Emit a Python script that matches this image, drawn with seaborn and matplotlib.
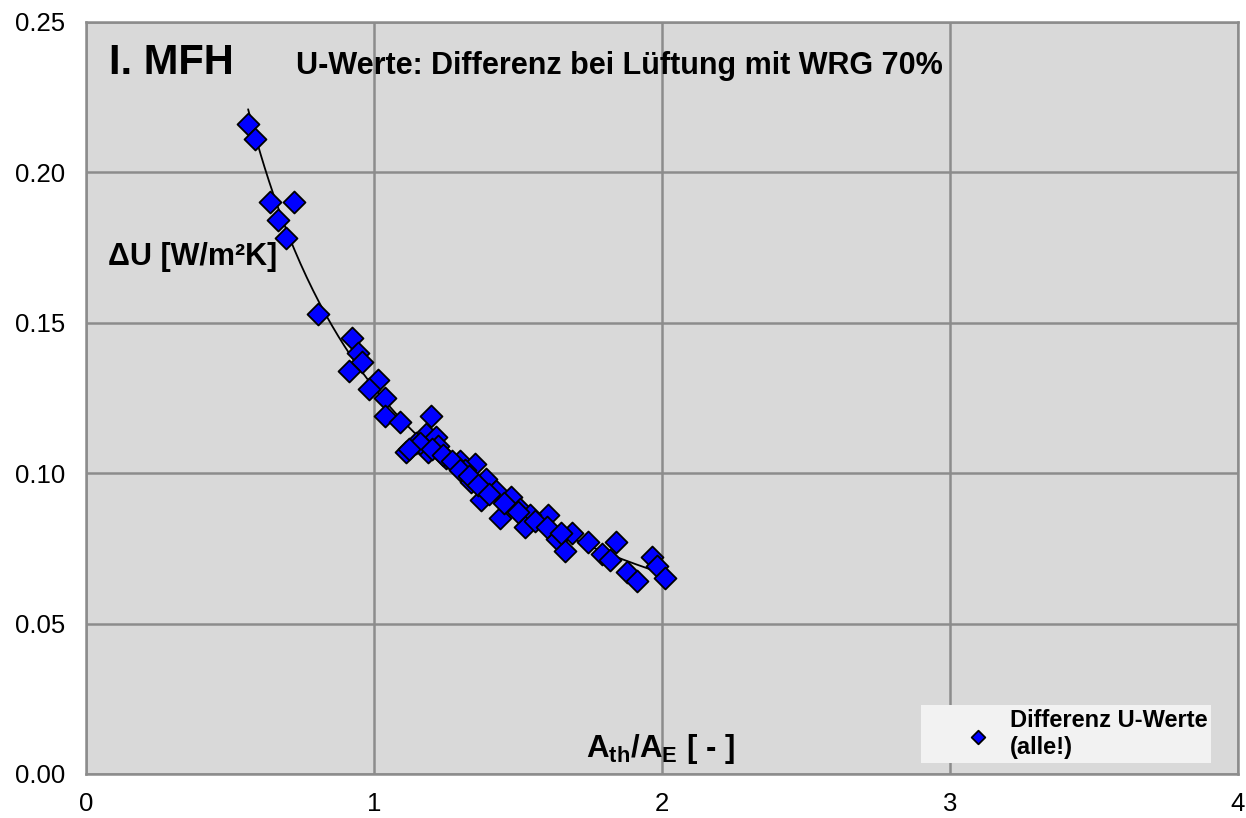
import numpy as np
import pandas as pd
import seaborn as sns
import matplotlib
matplotlib.use("Agg")
import matplotlib.pyplot as plt

# Ath/AE values and U-value differences
ath_ae = [0.563, 0.588, 0.640, 0.723, 0.668, 0.696, 0.807, 0.924, 0.944, 0.958,
          0.912, 1.013, 0.984, 1.037, 1.037, 1.092, 1.197, 1.112, 1.181, 1.216,
          1.222, 1.187, 1.147, 1.251, 1.297, 1.352, 1.315, 1.338, 1.390, 1.425,
          1.373, 1.477, 1.437, 1.506, 1.605, 1.541, 1.523, 1.634, 1.663, 1.686,
          1.744, 1.790, 1.840, 1.819, 1.877, 1.912, 1.964, 1.981, 2.010, 1.160,
          1.200, 1.240, 1.270, 1.300, 1.330, 1.360, 1.400, 1.450, 1.500, 1.560,
          1.600, 1.650, 1.120]
delta_u = [0.216, 0.211, 0.190, 0.190, 0.184, 0.178, 0.153, 0.145, 0.140, 0.137,
           0.134, 0.131, 0.128, 0.125, 0.119, 0.117, 0.119, 0.107, 0.113, 0.112,
           0.109, 0.107, 0.110, 0.105, 0.104, 0.103, 0.101, 0.097, 0.098, 0.094,
           0.091, 0.092, 0.085, 0.088, 0.086, 0.086, 0.082, 0.078, 0.074, 0.080,
           0.077, 0.073, 0.077, 0.071, 0.067, 0.064, 0.072, 0.069, 0.065, 0.110,
           0.108, 0.106, 0.104, 0.101, 0.099, 0.096, 0.093, 0.090, 0.087, 0.084,
           0.082, 0.080, 0.108]

df = pd.DataFrame({"x": ath_ae, "y": delta_u})

# power trendline fitted to the points
b, ln_a = np.polyfit(np.log(df["x"]), np.log(df["y"]), 1)
fit = pd.DataFrame({"x": np.linspace(df["x"].min(), df["x"].max(), 200)})
fit["y"] = np.exp(ln_a) * fit["x"] ** b

sns.set_style("white")
plt.rcParams['font.family'] = ['Liberation Sans', 'DejaVu Sans']
plt.rcParams['text.color'] = 'black'
plt.rcParams['xtick.color'] = '#808080'
plt.rcParams['ytick.color'] = '#808080'
plt.rcParams['xtick.labelcolor'] = 'black'
plt.rcParams['ytick.labelcolor'] = 'black'
plt.rcParams['mathtext.fontset'] = 'custom'
plt.rcParams['mathtext.rm'] = 'Liberation Sans:bold'
plt.rcParams['mathtext.bf'] = 'Liberation Sans:bold'
plt.rcParams['mathtext.it'] = 'Liberation Sans:bold'

fig = plt.figure(figsize=(12.46, 8.18), dpi=100)
ax = fig.add_axes([0.069, 0.0538, 0.9246, 0.9197])
ax.set_facecolor("#D9D9D9")

sns.lineplot(data=fit, x="x", y="y", ax=ax, color="black", linewidth=1.3,
             legend=False, zorder=3)
sns.scatterplot(data=df, x="x", y="y", ax=ax, marker="D", s=125,
                color="#0000FF", edgecolor="black", linewidth=1.3,
                label="Differenz U-Werte\n(alle!)", zorder=4)

ax.set_xlim(0, 4)
ax.set_ylim(0, 0.25)
ax.set_xticks([0, 1, 2, 3, 4])
ax.set_yticks([0, 0.05, 0.10, 0.15, 0.20, 0.25])
ax.set_yticklabels(["0.00", "0.05", "0.10", "0.15", "0.20", "0.25"])
ax.tick_params(labelsize=18.5, length=6, width=1.5, direction="out", pad=9)
ax.tick_params(axis="x", pad=7)
ax.grid(True, color="#8C8C8C", linewidth=1.8)
ax.set_axisbelow(True)
for sp in ax.spines.values():
    sp.set_color("#8C8C8C")
    sp.set_linewidth(1.8)
ax.set_xlabel("")
ax.set_ylabel("")

ax.text(0.08, 0.2325, "I. MFH", fontsize=30, fontweight="bold")
ax.text(0.73, 0.2325, "U-Werte: Differenz bei Lüftung mit WRG 70%",
        fontsize=22, fontweight="bold")
ax.text(0.075, 0.169, "ΔU [W/m²K]", fontsize=22, fontweight="bold")
ax.text(1.736, 0.0058, r"$\mathbf{A_{th}/A_{E}}$ [ - ]", fontsize=22.5, fontweight="bold")

leg = ax.legend(loc="lower left", bbox_to_anchor=(0.7248, 0.0146), frameon=True,
                prop={"weight": "bold", "size": 17},
                facecolor="#F2F2F2", edgecolor="#F2F2F2", framealpha=1,
                fancybox=False, markerscale=0.62, handlelength=4.5,
                handletextpad=-0.9, borderpad=0.15, labelspacing=0.1,
                borderaxespad=0)
leg.get_frame().set_linewidth(0)
for t in leg.get_texts():
    t.set_linespacing(1.25)

fig.savefig("out.png", dpi=100)
